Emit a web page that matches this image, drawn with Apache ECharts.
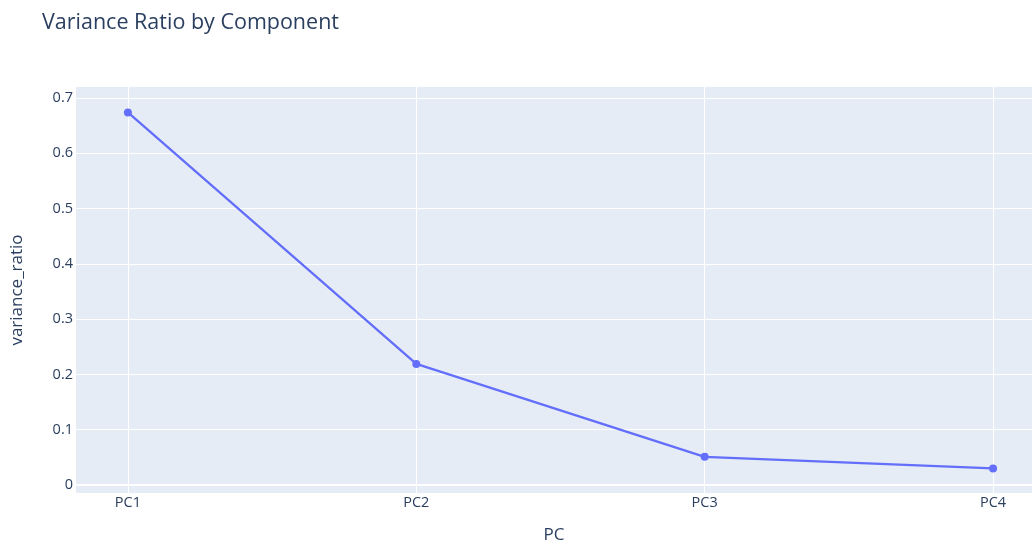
<!DOCTYPE html>
<html>
<head>
<meta charset="utf-8">
<script src="https://cdn.jsdelivr.net/npm/echarts@6/dist/echarts.min.js"></script>
<style>html,body{margin:0;padding:0;background:#fff}#c{width:1032px;height:544px}</style>
</head>
<body>
<div id="c"></div>
<script>
var categories = ['PC1', 'PC2', 'PC3', 'PC4'];
var varianceRatio = [0.674, 0.219, 0.051, 0.030];
var yTicks = [0, 0.1, 0.2, 0.3, 0.4, 0.5, 0.6, 0.7];

var points = categories.map(function (c, i) { return [i, varianceRatio[i]]; });
var font = '"Open Sans", "Noto Sans", sans-serif';
var txt = '#2a3f5f';

var chart = echarts.init(document.getElementById('c'), null, {renderer: 'canvas'});
chart.setOption({
  animation: false,
  backgroundColor: '#fff',
  title: {
    text: 'Variance Ratio by Component',
    left: 37, top: 7,
    textStyle: {fontFamily: font, fontSize: 21.5, fontWeight: 'normal', color: txt}
  },
  grid: {
    left: 76, right: 0, top: 87, bottom: 51,
    show: true, backgroundColor: '#E5ECF6', borderWidth: 0,
    containLabel: false,
    outerBoundsMode: 'none'
  },
  xAxis: {
    type: 'value',
    min: -0.18, max: 3.135,
    minInterval: 1, maxInterval: 1,
    name: 'PC', nameLocation: 'middle', nameGap: 34,
    nameTextStyle: {fontFamily: font, fontSize: 17, color: txt},
    axisLine: {show: false}, axisTick: {show: false},
    axisLabel: {
      showMinLabel: false, showMaxLabel: false,
      fontFamily: font, fontSize: 14.5, color: txt, margin: 2,
      formatter: function (v) { return (Math.abs(v - Math.round(v)) < 1e-6 && categories[Math.round(v)]) ? categories[Math.round(v)] : ''; }
    },
    splitLine: {show: true, showMinLine: false, showMaxLine: false, lineStyle: {color: '#fff', width: 1}}
  },
  yAxis: {
    type: 'value',
    min: -0.0145, max: 0.72,
    minInterval: 0.1, maxInterval: 0.1,
    name: 'variance_ratio', nameLocation: 'middle', nameGap: 50,
    nameTextStyle: {fontFamily: font, fontSize: 17, color: txt},
    axisLine: {show: false}, axisTick: {show: false},
    axisLabel: {
      showMinLabel: false, showMaxLabel: false,
      fontFamily: font, fontSize: 14.5, color: txt, margin: 3,
      formatter: function (v) {
        for (var i = 0; i < yTicks.length; i++) { if (Math.abs(v - yTicks[i]) < 1e-6) return String(yTicks[i]); }
        return '';
      }
    },
    splitLine: {show: true, showMinLine: false, showMaxLine: false, lineStyle: {color: '#fff', width: 1}}
  },
  series: [{
    type: 'line',
    data: points,
    symbol: 'circle', symbolSize: 8,
    itemStyle: {color: '#636efa'},
    lineStyle: {color: '#636efa', width: 2.3},
    markLine: {
      silent: true, symbol: 'none', label: {show: false},
      lineStyle: {color: '#fff', width: 2, type: 'solid'},
      data: [{yAxis: 0}],
      z: 1
    },
    z: 3
  }]
});
</script>
</body>
</html>
